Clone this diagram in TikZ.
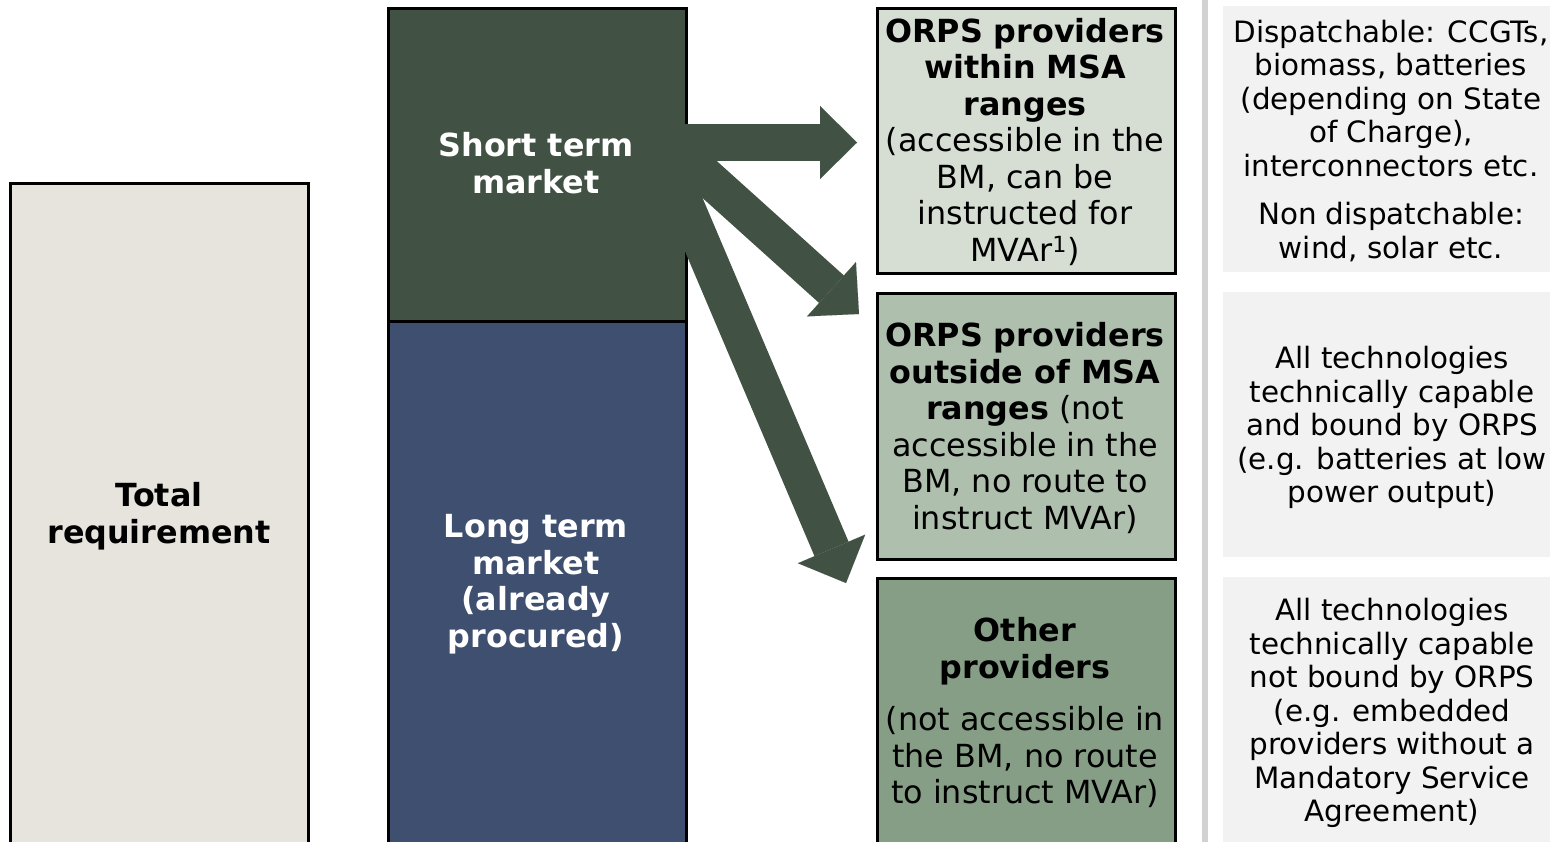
\documentclass[tikz,border=0pt]{standalone}
\usepackage{fontspec}
\setmainfont{DejaVu Sans}
\usetikzlibrary{arrows.meta}
\definecolor{totfill}{RGB}{231,228,222}
\definecolor{stfill}{RGB}{65,81,67}
\definecolor{ltfill}{RGB}{63,79,111}
\definecolor{ra}{RGB}{214,222,212}
\definecolor{rb}{RGB}{174,191,174}
\definecolor{rc}{RGB}{134,158,134}
\definecolor{grayfill}{RGB}{242,242,242}
\definecolor{sepcol}{RGB}{210,210,210}
\tikzset{
  box/.style={draw=black, line width=2.6pt, anchor=north west, inner sep=0pt},
  txt/.style={align=center, font=\fontsize{31.8}{36.5}\selectfont},
  btxt/.style={align=center, font=\fontsize{31.8}{36.5}\selectfont\bfseries},
  gtxt/.style={align=center, font=\fontsize{29.4}{33.5}\selectfont},
  bigarrow/.style={draw=stfill, line width=37pt, -{Triangle[width=73pt,length=37pt,line width=0.01pt]}},
}
\begin{document}
\begin{tikzpicture}[x=1pt,y=-1pt]
\useasboundingbox (0,0) rectangle (1550,841);
% left columns
\node[box, fill=totfill, minimum width=298pt, minimum height=680pt] (tot) at (9,182) {};
\node[box, fill=ltfill, minimum width=298pt, minimum height=540pt] (lt) at (387,320) {};
\node[box, fill=stfill, minimum width=298pt, minimum height=313pt] (st) at (387,7) {};
% right boxes
\node[box, fill=ra, minimum width=298pt, minimum height=265pt] (r1) at (876,7) {};
\node[box, fill=rb, minimum width=298pt, minimum height=266pt] (r2) at (876,292) {};
\node[box, fill=rc, minimum width=298pt, minimum height=280pt] (r3) at (876,577) {};
% separator
\fill[sepcol] (1202,-2) rectangle (1208,845);
% gray boxes
\node[anchor=north west, fill=grayfill, inner sep=0pt, minimum width=335pt, minimum height=266pt] (g1) at (1223,6) {};
\node[anchor=north west, fill=grayfill, inner sep=0pt, minimum width=335pt, minimum height=265pt] (g2) at (1223,292) {};
\node[anchor=north west, fill=grayfill, inner sep=0pt, minimum width=335pt, minimum height=280pt] (g3) at (1223,577) {};
% arrows
\coordinate (a1s) at (670,142.5);
\coordinate (a1e) at (857,142.5);
\coordinate (a2s) at (672,145.6);
\coordinate (a2e) at (859,314);
\coordinate (a3s) at (668,164);
\coordinate (a3e) at (846,583);
\draw[bigarrow] (a3s) -- (a3e);
\draw[bigarrow] (a2s) -- (a2e);
\draw[bigarrow] (a1s) -- (a1e);
% texts
\node[btxt] (tott) at (159,516) {Total\\requirement};
\node[btxt, text=white] (stt) at (536,163) {Short term\\market};
\node[btxt, text=white] (ltt) at (536,584) {Long term\\market\\(already\\procured)};
\node[txt] (r1t) at (1025,142) {\textbf{ORPS providers}\\\textbf{within MSA}\\\textbf{ranges}\\(accessible in the\\BM, can be\\instructed for\\MVAr\textsuperscript{1})};
\node[txt] (r2t) at (1025,428) {\textbf{ORPS providers}\\\textbf{outside of MSA}\\\textbf{ranges} (not\\accessible in the\\BM, no route to\\instruct MVAr)};
\node[txt] (r3t) at (1025,713) {\textbf{Other}\\\textbf{providers}\\[16pt](not accessible in\\the BM, no route\\to instruct MVAr)};
\node[gtxt] (g1t) at (1391,141) {Dispatchable: CCGTs,\\biomass, batteries\\(depending on State\\of Charge),\\interconnectors etc.\\[15pt]Non dispatchable:\\wind, solar etc.};
\node[gtxt] (g2t) at (1392,427.5) {All technologies\\technically capable\\and bound by ORPS\\(e.g. batteries at low\\power output)};
\node[gtxt] (g3t) at (1392,713) {All technologies\\technically capable\\not bound by ORPS\\(e.g. embedded\\providers without a\\Mandatory Service\\Agreement)};
\end{tikzpicture}
\end{document}
